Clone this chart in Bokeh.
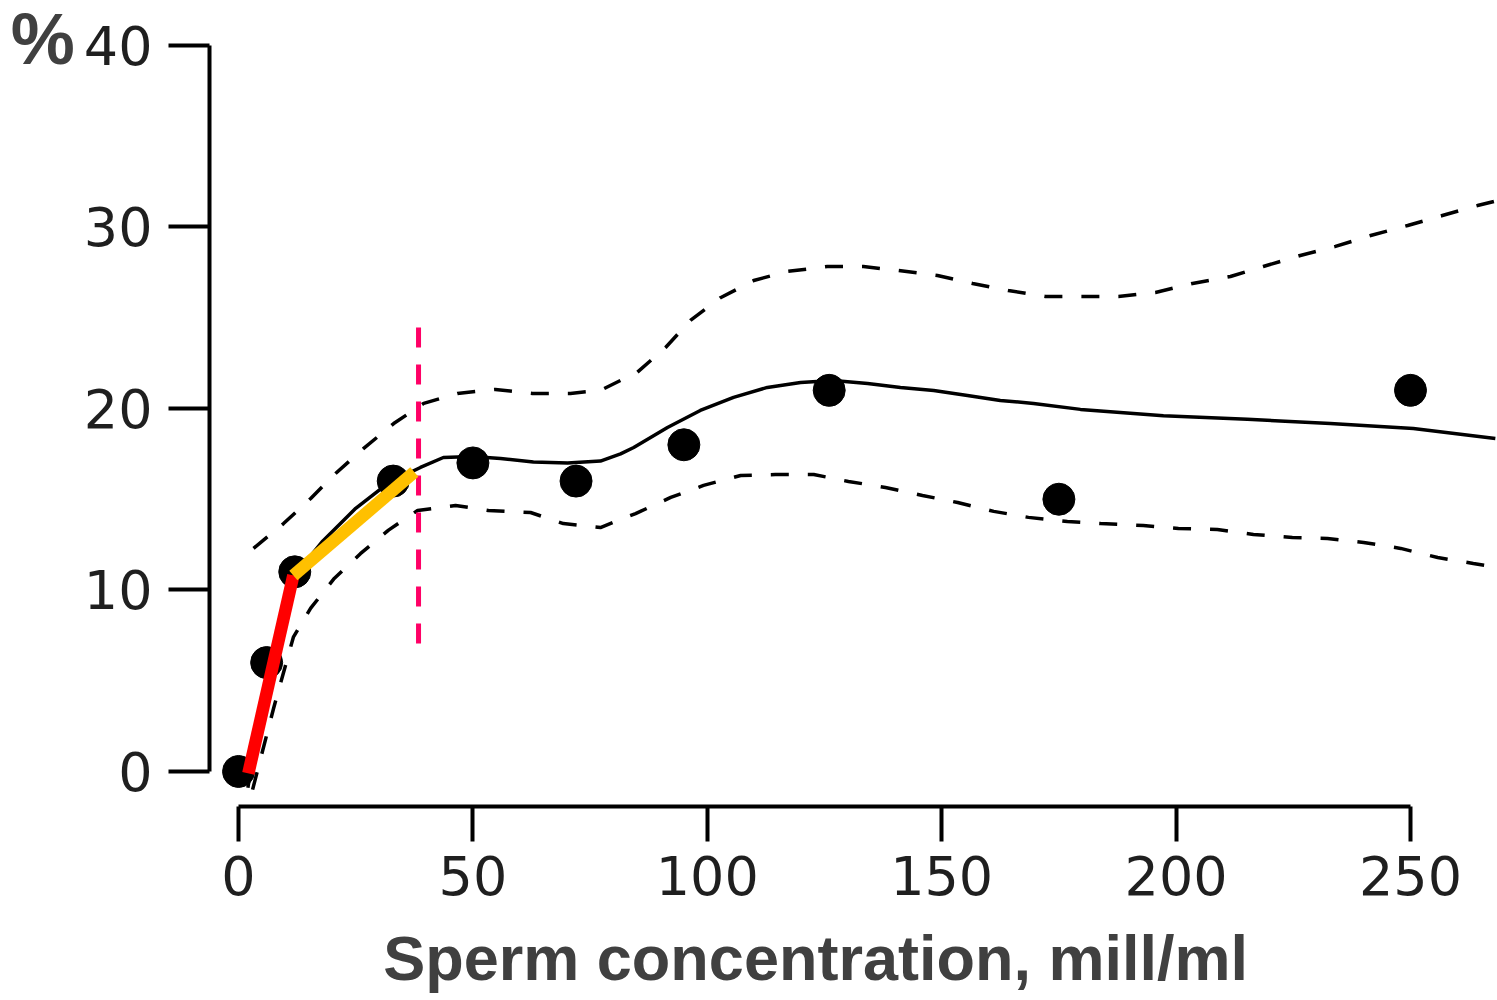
from bokeh.plotting import figure
from bokeh.models import Range1d, FixedTicker, Label
from bokeh.embed import file_html
from bokeh.resources import INLINE

# ---- data ----
obs_x = [0, 6, 12, 33, 50, 72, 95, 126, 175, 250]
obs_y = [0, 6, 11, 16, 17, 16, 18, 21, 15, 21]

fit_x = [2.0, 4.0, 7.0, 10.0, 12.0, 18.0, 25.0, 32.0, 38.8, 43.7, 49.9, 55.9, 62.9, 70.2,
         77.2, 81.5, 84.3, 91.5, 98.5, 105.6, 112.8, 119.9, 126.9, 134.2, 141.2, 148.3,
         155.5, 162.5, 169.6, 179.6, 197.3, 215.2, 232.9, 250.6, 268.1]
fit_y = [-0.9, 2.2, 6.0, 9.3, 10.8, 12.7, 14.5, 15.9, 16.75, 17.3, 17.35, 17.25, 17.05, 17.0,
         17.1, 17.5, 17.85, 18.95, 19.89, 20.61, 21.16, 21.43, 21.54, 21.38, 21.16, 20.99,
         20.72, 20.44, 20.28, 19.95, 19.6, 19.4, 19.17, 18.9, 18.35]

upper_x = [3.2, 9.6, 15.4, 20.7, 26.7, 33.1, 39.5, 46.7, 54.8, 62.7, 70.8, 77.2, 85.1, 91.1,
           96.4, 102.8, 109.9, 117.1, 125.6, 133.3, 140.8, 149.1, 156.6, 164.2, 172.1, 180.2,
           187.7, 195.6, 203.5, 211.6, 218.6, 226.5, 234.0, 241.5, 249.4, 256.8, 264.3, 268.6]
upper_y = [12.29, 13.66, 15.04, 16.42, 17.8, 19.17, 20.28, 20.83, 21.05, 20.83, 20.83, 21.0,
           22.0, 23.36, 24.85, 26.1, 27.05, 27.55, 27.82, 27.82, 27.6, 27.33, 26.89, 26.5,
           26.17, 26.17, 26.17, 26.39, 26.89, 27.27, 27.82, 28.43, 28.93, 29.53, 30.08, 30.63,
           31.18, 31.46]

lower_x = [3.0, 7.5, 11.7, 15.4, 20.3, 26.0, 32.0, 38.2, 46.3, 53.3, 62.3, 69.3, 77.2, 84.7,
           92.2, 99.2, 107.1, 114.5, 122.7, 130.1, 138.0, 145.9, 153.4, 161.1, 168.5, 176.8,
           183.9, 193.0, 200.5, 208.8, 216.5, 224.8, 232.3, 240.0, 247.9, 255.8, 263.4, 268.6]
lower_y = [-1.0, 3.5, 7.4, 9.0, 10.6, 12.0, 13.3, 14.38, 14.66, 14.38, 14.27, 13.66, 13.44,
           14.21, 15.1, 15.76, 16.31, 16.36, 16.36, 15.98, 15.65, 15.21, 14.82, 14.33, 14.0,
           13.77, 13.66, 13.55, 13.39, 13.33, 13.06, 12.89, 12.84, 12.62, 12.29, 11.79, 11.46,
           11.24]

red_x = [2.1, 11.7]
red_y = [-0.1, 10.8]
yellow_x = [11.7, 37.5]
yellow_y = [10.8, 16.5]
cut_x = [38.4, 38.4]
cut_y = [7.05, 24.6]

x_ticks = [0, 50, 100, 150, 200, 250]
y_ticks = [0, 10, 20, 30, 40]
x_title = "Sperm concentration, mill/ml"
y_unit = "%"

TICK_FONT = "DejaVu Sans"
BOLD_FONT = "Liberation Sans"

p = figure(width=1497, height=1000, output_backend="svg", toolbar_location=None,
           x_range=Range1d(-6.19, 268.56), y_range=Range1d(-1.93, 40.44))
p.min_border_left = 209
p.min_border_right = 0
p.min_border_top = 37
p.min_border_bottom = 194
p.outline_line_color = None
p.background_fill_color = "white"
p.border_fill_color = "white"
p.grid.visible = False

# confidence band (dashed)
p.line(upper_x, upper_y, line_color="black", line_width=3.5, line_dash="18 19")
p.line(lower_x, lower_y, line_color="black", line_width=3.5, line_dash="18 19")
# fitted curve
p.line(fit_x, fit_y, line_color="black", line_width=3.5)
# observations
p.scatter(obs_x, obs_y, size=32, fill_color="black", line_color="black")
# cut-off marker
p.line(cut_x, cut_y, line_color="#FF0066", line_width=5, line_dash="20 17")
# highlighted segments
p.line(red_x, red_y, line_color="#FF0000", line_width=12.5)
p.line(yellow_x, yellow_y, line_color="#FFC000", line_width=12.5)

for ax in (p.xaxis[0], p.yaxis[0]):
    ax.axis_line_width = 4
    ax.axis_line_color = "black"
    ax.major_tick_line_width = 4
    ax.major_tick_line_color = "black"
    ax.major_tick_in = 0
    ax.minor_tick_line_color = None
    ax.major_label_text_font = TICK_FONT
    ax.major_label_text_font_size = "54px"
    ax.major_label_text_color = "#1f1f1f"

xa = p.xaxis[0]
xa.ticker = FixedTicker(ticks=x_ticks)
xa.bounds = (0, 250)
xa.major_tick_out = 35
xa.major_label_standoff = 14

ya = p.yaxis[0]
ya.ticker = FixedTicker(ticks=y_ticks)
ya.bounds = (0, 40)
ya.major_tick_out = 41
ya.major_label_standoff = 16

# axis title (placed in the bottom panel so it is not clipped to the frame)
p.add_layout(Label(x=123.1, y=-10.3, text=x_title, text_align="center",
                   text_baseline="alphabetic", text_font=BOLD_FONT, text_font_size="63px",
                   text_font_style="bold", text_color="#404040"), "below")
# unit label at the top of the y axis
p.add_layout(Label(x=-48.6, y=40.33, text=y_unit, text_align="left",
                   text_baseline="alphabetic", text_font=BOLD_FONT, text_font_size="72px",
                   text_font_style="bold", text_color="#404040"), "left")

open("out.html", "w").write(file_html(p, INLINE))
